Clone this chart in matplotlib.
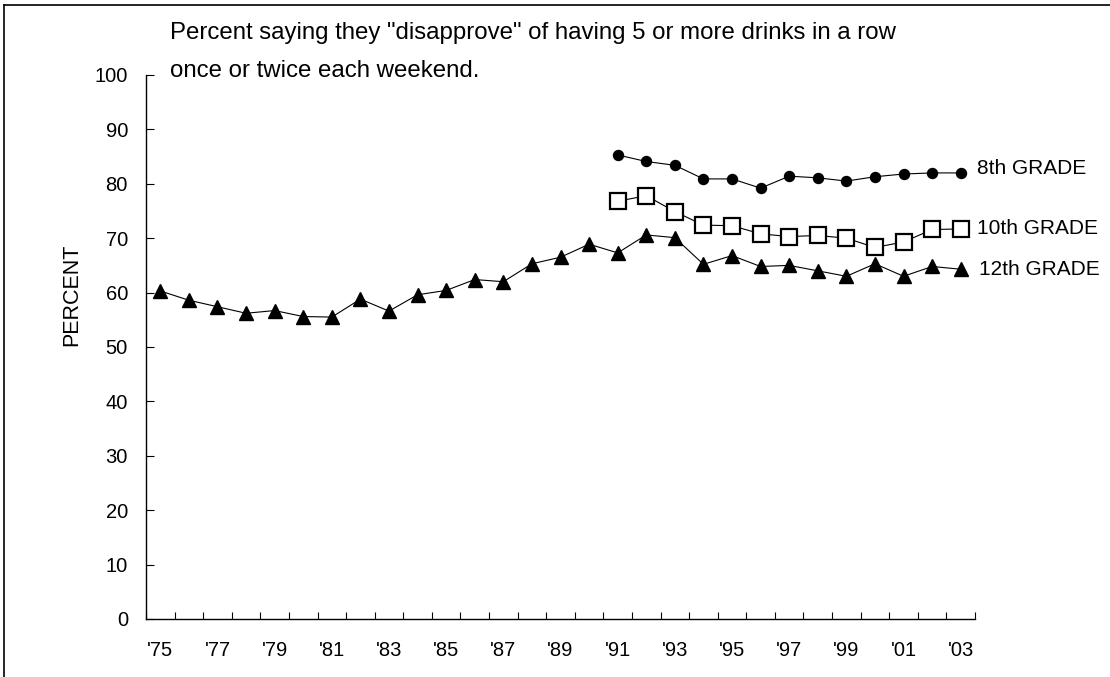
import matplotlib
matplotlib.use("Agg")
import matplotlib.pyplot as plt
from matplotlib.lines import Line2D
import numpy as np

plt.rcParams['font.family'] = ['Liberation Sans', 'DejaVu Sans']

years_all = list(range(1975, 2004))
year_labels = ["'75", "'77", "'79", "'81", "'83", "'85", "'87", "'89",
               "'91", "'93", "'95", "'97", "'99", "'01", "'03"]

grade12 = [60.3, 58.6, 57.4, 56.2, 56.7, 55.6, 55.5, 58.8, 56.6, 59.6,
           60.4, 62.4, 62.0, 65.3, 66.5, 68.9, 67.3, 70.6, 70.1, 65.2,
           66.8, 64.8, 65.0, 64.0, 63.0, 65.3, 63.0, 64.8, 64.3]
years_8_10 = list(range(1991, 2004))
grade8 = [85.3, 84.1, 83.4, 80.9, 80.9, 79.2, 81.4, 81.1, 80.5, 81.3,
          81.8, 82.0, 82.0]
grade10 = [76.8, 77.8, 74.9, 72.4, 72.3, 70.8, 70.3, 70.5, 70.0, 68.3,
           69.3, 71.6, 71.7]

W, H = 1110, 677
fig = plt.figure(figsize=(W / 100, H / 100), dpi=100)
ax = fig.add_axes([146 / W, 1 - 619 / H, (975 - 146) / W, (619 - 75) / H])

x12 = np.array(years_all) - 1975
x810 = np.array(years_8_10) - 1975

ax.plot(x810, grade8, color='black', lw=0.8, marker='o', ms=7.2,
        markerfacecolor='black', markeredgecolor='black', clip_on=False)
ax.plot(x810, grade10, color='black', lw=0.8, marker='s', ms=11,
        markerfacecolor='white', markeredgecolor='black', markeredgewidth=1.6,
        clip_on=False)
ax.plot(x12, grade12, color='black', lw=0.8, marker='^', ms=10.5,
        markerfacecolor='black', markeredgecolor='black', clip_on=False)

fs = 14.5
lfs = 15
ax.annotate("8th GRADE", (x810[-1], grade8[-1]), xytext=(11.5, 3),
            textcoords='offset points', va='center', ha='left', fontsize=lfs)
ax.annotate("10th GRADE", (x810[-1], grade10[-1]), xytext=(12, 0),
            textcoords='offset points', va='center', ha='left', fontsize=lfs)
ax.annotate("12th GRADE", (x12[-1], grade12[-1]), xytext=(13.5, 0),
            textcoords='offset points', va='center', ha='left', fontsize=lfs)

ax.set_xlim(-0.5, 28.5)
ax.set_ylim(0, 100)
ax.set_yticks(np.arange(0, 101, 10))
ax.set_xticks(np.arange(0, 29, 2))
ax.set_xticklabels(year_labels)
ax.set_xticks(np.arange(-0.5, 29, 1), minor=True)
ax.tick_params(axis='x', which='major', length=0, pad=16, labelsize=fs)
ax.tick_params(axis='x', which='minor', length=5, direction='in', width=0.8)
ax.tick_params(axis='y', which='major', length=6, direction='in', width=0.8,
               pad=13, labelsize=fs)
for s in ['top', 'right']:
    ax.spines[s].set_visible(False)
for s in ['left', 'bottom']:
    ax.spines[s].set_linewidth(1.0)

ax.set_ylabel("PERCENT", fontsize=15.5)
ax.yaxis.set_label_coords(-(146 - 82) / (975 - 146), (619 - 295) / (619 - 75))

tfs = 17.3
fig.text(170 / W, 1 - 33 / H,
         'Percent saying they "disapprove" of having 5 or more drinks in a row',
         fontsize=tfs, va='center', ha='left')
fig.text(170 / W, 1 - 71 / H, 'once or twice each weekend.',
         fontsize=tfs, va='center', ha='left')

fig.add_artist(Line2D([4 / W, 1], [1 - 5 / H, 1 - 5 / H], color='black',
                      lw=1.2, transform=fig.transFigure))
fig.add_artist(Line2D([4 / W, 4 / W], [0, 1 - 5 / H], color='black',
                      lw=1.2, transform=fig.transFigure))

fig.savefig("out.png", dpi=100)
